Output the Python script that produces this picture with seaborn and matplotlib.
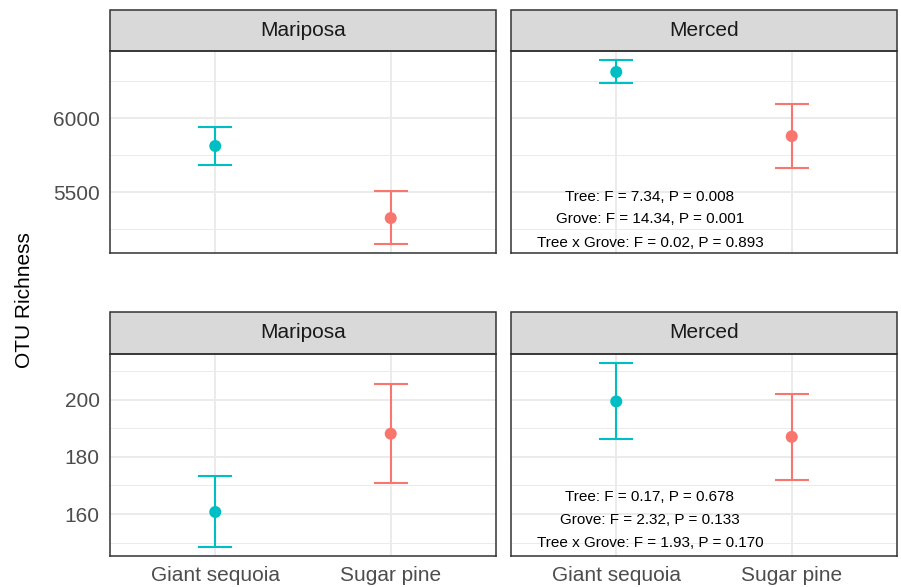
import pandas as pd
import matplotlib.pyplot as plt
import matplotlib.patches as mpatches
import numpy as np
import seaborn as sns

# values (mean and error-bar ends)
trees = ['Giant sequoia', 'Sugar pine']
groves = ['Mariposa', 'Merced']
tree_colors = {'Giant sequoia': '#00BFC4', 'Sugar pine': '#F8766D'}

# top row: OTU richness (thousands range)
top_mean = {'Mariposa': [5811, 5324], 'Merced': [6311, 5878]}
top_lo = {'Mariposa': [5682, 5149], 'Merced': [6236, 5662]}
top_hi = {'Mariposa': [5939, 5507], 'Merced': [6392, 6095]}

# bottom row
bot_mean = {'Mariposa': [160.7, 188.1], 'Merced': [199.4, 187.0]}
bot_lo = {'Mariposa': [148.4, 170.8], 'Merced': [186.1, 171.9]}
bot_hi = {'Mariposa': [173.3, 205.5], 'Merced': [213.0, 202.0]}

top_stats = ['Tree: F = 7.34, P = 0.008',
             'Grove: F = 14.34, P = 0.001',
             'Tree x Grove: F = 0.02, P = 0.893']
bot_stats = ['Tree: F = 0.17, P = 0.678',
             'Grove: F = 2.32, P = 0.133',
             'Tree x Grove: F = 1.93, P = 0.170']

top_ticks = [5500, 6000]
top_minor = [5250, 5750, 6250]
bot_ticks = [160, 180, 200]
bot_minor = [150, 170, 190, 210]

sns.set_style('white')
plt.rcParams['font.family'] = ['Liberation Sans', 'DejaVu Sans']

fig = plt.figure(figsize=(9.01, 5.87), dpi=100)
W, H = 901, 587


def px_axes(x0, y0, x1, y1):
    return fig.add_axes([x0 / W, (H - y1) / H, (x1 - x0) / W, (y1 - y0) / H])


def draw_panel(ax, grove, mean, lo, hi, ylim, ticks, minor, show_x, strip_h, stats, stat_y):
    df = pd.DataFrame({'tree': trees, 'mean': mean[grove], 'lo': lo[grove], 'hi': hi[grove]})
    for _, r in df.iterrows():
        ax.errorbar([r['tree']], [r['mean']],
                    yerr=[[r['mean'] - r['lo']], [r['hi'] - r['mean']]],
                    fmt='none', ecolor=tree_colors[r['tree']], elinewidth=1.5,
                    capsize=12.5, capthick=1.5, zorder=3)
    sns.scatterplot(data=df, x='tree', y='mean', hue='tree', palette=tree_colors,
                    s=75, edgecolor='none', legend=False, ax=ax, zorder=4)
    ax.set_xlim(-0.6, 1.6)
    ax.set_ylim(*ylim)
    ax.set_yticks(ticks)
    ax.set_yticks(minor, minor=True)
    ax.grid(True, which='major', color='#EBEBEB', lw=1.4, zorder=0)
    ax.grid(True, which='minor', axis='y', color='#EBEBEB', lw=0.7, zorder=0)
    ax.set_axisbelow(True)
    ax.set_xlabel('')
    ax.set_ylabel('')
    for s in ax.spines.values():
        s.set_color('#333333')
        s.set_linewidth(1.1)
    ax.tick_params(axis='both', which='major', length=5, width=1.1, color='#333333',
                   labelsize=15, labelcolor='#4D4D4D', pad=2.5)
    ax.tick_params(axis='y', which='minor', length=0)
    if not show_x:
        ax.set_xticklabels([])
    # facet strip
    frac = strip_h / 202
    rect = mpatches.Rectangle((0, 1), 1, frac, transform=ax.transAxes, clip_on=False,
                              facecolor='#D9D9D9', edgecolor='#333333', lw=1.1)
    ax.add_patch(rect)
    ax.text(0.5, 1 + frac / 2, grove, transform=ax.transAxes, ha='center', va='center',
            fontsize=15, color='#1A1A1A')
    if stats is not None:
        for txt, yy in zip(stats, stat_y):
            ax.text(0.36, yy, txt, transform=ax.transAxes, ha='center', va='center',
                    fontsize=11, color='black', zorder=5)


ax_tl = px_axes(110, 51, 496, 253)
ax_tr = px_axes(511, 51, 897, 253)
ax_bl = px_axes(110, 354, 496, 556)
ax_br = px_axes(511, 354, 897, 556)

draw_panel(ax_tl, 'Mariposa', top_mean, top_lo, top_hi, (5088, 6453), top_ticks, top_minor,
           False, 41, None, None)
draw_panel(ax_tr, 'Merced', top_mean, top_lo, top_hi, (5088, 6453), top_ticks, top_minor,
           False, 41, top_stats, [0.277, 0.168, 0.05])
ax_tr.set_yticklabels([])
ax_tr.tick_params(axis='y', which='major', length=0)
draw_panel(ax_bl, 'Mariposa', bot_mean, bot_lo, bot_hi, (145.3, 216), bot_ticks, bot_minor,
           True, 42, None, None)
draw_panel(ax_br, 'Merced', bot_mean, bot_lo, bot_hi, (145.3, 216), bot_ticks, bot_minor,
           True, 42, bot_stats, [0.29, 0.178, 0.066])
ax_br.set_yticklabels([])
ax_br.tick_params(axis='y', which='major', length=0)

fig.text(25 / W, (H - 300) / H, 'OTU Richness', rotation=90, ha='center', va='center',
         fontsize=15, color='black')

fig.savefig('out.png', dpi=100)
